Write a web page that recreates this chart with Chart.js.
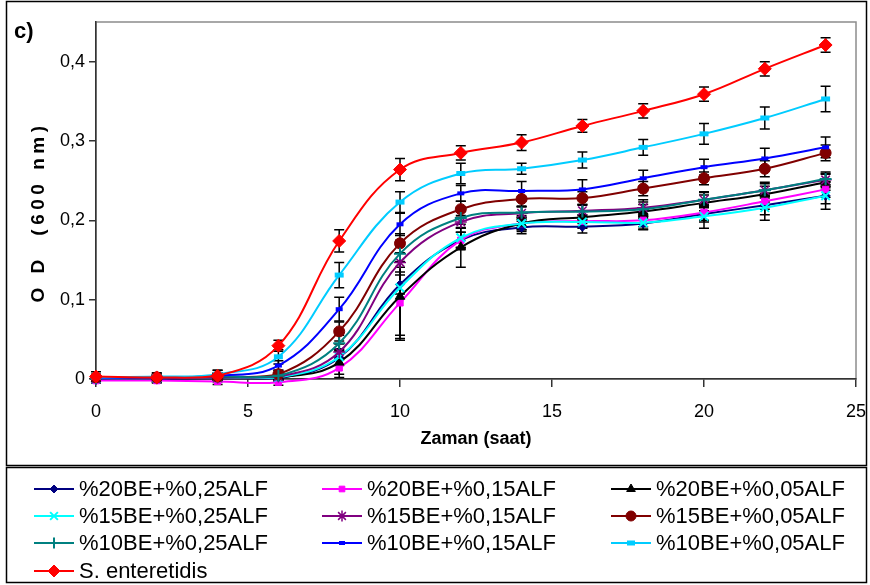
<!DOCTYPE html>
<html>
<head>
<meta charset="utf-8">
<script src="https://cdn.jsdelivr.net/npm/chart.js@4.4.1/dist/chart.umd.min.js"></script>
<style>
  html, body { margin: 0; padding: 0; background: #fff; }
  #wrap { width: 870px; height: 585px; }
</style>
</head>
<body>
<div id="wrap"><canvas id="chart" width="870" height="585"></canvas></div>
<script>
// sampling times (h)
const hours = [0, 2, 4, 6, 8, 10, 12, 14, 16, 18, 20, 22, 24];
const xTicks = [0, 5, 10, 15, 20, 25];
const yTicks = [0, 0.1, 0.2, 0.3, 0.4];

const seriesNames = [
  "%20BE+%0,25ALF", "%20BE+%0,15ALF", "%20BE+%0,05ALF",
  "%15BE+%0,25ALF", "%15BE+%0,15ALF", "%15BE+%0,05ALF",
  "%10BE+%0,25ALF", "%10BE+%0,15ALF", "%10BE+%0,05ALF",
  "S. enteretidis"
];

// OD600 means
const be20alf25 = [0.000, 0.000, 0.001, 0.001, 0.027, 0.119, 0.175, 0.191, 0.192, 0.196, 0.208, 0.219, 0.231];
const be20alf15 = [-0.002, -0.002, -0.003, -0.004, 0.014, 0.096, 0.175, 0.196, 0.199, 0.200, 0.210, 0.224, 0.239];
const be20alf05 = [0.000, 0.001, 0.001, 0.002, 0.021, 0.104, 0.166, 0.196, 0.204, 0.211, 0.222, 0.233, 0.248];
const be15alf25 = [0.000, 0.001, 0.002, 0.002, 0.028, 0.115, 0.178, 0.196, 0.198, 0.197, 0.205, 0.216, 0.231];
const be15alf15 = [0.000, 0.001, 0.002, 0.003, 0.034, 0.147, 0.198, 0.209, 0.212, 0.216, 0.226, 0.238, 0.251];
const be15alf05 = [0.002, 0.002, 0.003, 0.006, 0.060, 0.171, 0.214, 0.227, 0.228, 0.240, 0.253, 0.265, 0.285];
const be10alf25 = [0.001, 0.002, 0.003, 0.004, 0.045, 0.158, 0.203, 0.210, 0.211, 0.214, 0.226, 0.238, 0.252];
const be10alf15 = [0.001, 0.002, 0.004, 0.017, 0.088, 0.195, 0.234, 0.237, 0.239, 0.253, 0.267, 0.278, 0.292];
const be10alf05 = [0.002, 0.003, 0.006, 0.028, 0.131, 0.223, 0.259, 0.265, 0.276, 0.292, 0.309, 0.329, 0.353];
const control   = [0.003, 0.002, 0.004, 0.042, 0.174, 0.264, 0.285, 0.298, 0.319, 0.338, 0.359, 0.391, 0.421];

// standard deviations
const sd20alf25 = [0.003, 0.003, 0.004, 0.004, 0.010, 0.012, 0.010, 0.008, 0.008, 0.008, 0.010, 0.012, 0.010];
const sd20alf15 = [0.003, 0.003, 0.004, 0.004, 0.012, 0.045, 0.010, 0.008, 0.008, 0.008, 0.010, 0.010, 0.010];
const sd20alf05 = [0.003, 0.003, 0.004, 0.004, 0.015, 0.055, 0.025, 0.010, 0.008, 0.009, 0.010, 0.010, 0.010];
const sd15alf25 = [0.004, 0.004, 0.004, 0.004, 0.010, 0.060, 0.012, 0.008, 0.008, 0.008, 0.015, 0.016, 0.017];
const sd15alf15 = [0.003, 0.003, 0.004, 0.004, 0.010, 0.012, 0.008, 0.008, 0.008, 0.010, 0.010, 0.010, 0.008];
const sd15alf05 = [0.003, 0.003, 0.004, 0.005, 0.012, 0.012, 0.010, 0.010, 0.008, 0.009, 0.008, 0.010, 0.010];
const sd10alf25 = [0.003, 0.003, 0.004, 0.004, 0.010, 0.010, 0.008, 0.008, 0.008, 0.009, 0.009, 0.008, 0.009];
const sd10alf15 = [0.003, 0.003, 0.004, 0.006, 0.015, 0.014, 0.010, 0.012, 0.012, 0.010, 0.010, 0.013, 0.013];
const sd10alf05 = [0.004, 0.004, 0.005, 0.009, 0.016, 0.013, 0.013, 0.007, 0.010, 0.010, 0.013, 0.014, 0.016];
const sdControl = [0.006, 0.006, 0.007, 0.007, 0.014, 0.014, 0.009, 0.010, 0.008, 0.009, 0.009, 0.009, 0.009];

const means = [be20alf25, be20alf15, be20alf05, be15alf25, be15alf15, be15alf05, be10alf25, be10alf15, be10alf05, control];
const errors = [sd20alf25, sd20alf15, sd20alf05, sd15alf25, sd15alf15, sd15alf05, sd10alf25, sd10alf15, sd10alf05, sdControl];

const colors = ["#000080", "#ff00ff", "#000000", "#00ffff", "#800080", "#800000", "#008080", "#0000ff", "#00ccff", "#ff0000"];
const markers = [
  { style: "rectRot", r: 4.5, bw: 1 },
  { style: "rect", r: 4.5, bw: 1 },
  { style: "triangle", r: 5.5, bw: 1 },
  { style: "crossRot", r: 6, bw: 2 },
  { style: "star", r: 6, bw: 1.5 },
  { style: "circle", r: 5.5, bw: 1 },
  { style: "cross", r: 6, bw: 2 },
  { style: "line", r: 3.5, bw: 4 },
  { style: "line", r: 4.5, bw: 5 },
  { style: "rectRot", r: 6.5, bw: 1 }
];

const FONT = '"Liberation Sans", Arial, sans-serif';
const comma = (v) => String(v).replace(".", ",");

const datasets = seriesNames.map((name, i) => ({
  label: name,
  data: hours.map((h, j) => ({ x: h, y: means[i][j] })),
  borderColor: colors[i],
  backgroundColor: colors[i],
  borderWidth: 2,
  tension: 0.4,
  pointStyle: markers[i].style,
  pointRadius: markers[i].r,
  pointBorderWidth: markers[i].bw,
  pointBackgroundColor: colors[i],
  pointBorderColor: colors[i],
  clip: false,
  order: seriesNames.length - i
}));

// error bars, frames, y title and the boxed legend
const decor = {
  id: "decor",
  beforeDraw(chart) {
    const { ctx, chartArea: a } = chart;
    ctx.save();
    ctx.fillStyle = "#fff";
    ctx.fillRect(0, 0, chart.width, chart.height);
    ctx.strokeStyle = "#8c8c8c";
    ctx.lineWidth = 1.5;
    ctx.strokeRect(a.left, a.top, a.right - a.left, a.bottom - a.top);
    ctx.restore();
  },
  beforeDatasetsDraw(chart) {
    const { ctx, scales: { x, y } } = chart;
    ctx.save();
    ctx.strokeStyle = "#000";
    ctx.lineWidth = 1.5;
    means.forEach((vals, i) => {
      vals.forEach((v, j) => {
        const px = x.getPixelForValue(hours[j]);
        const top = y.getPixelForValue(v + errors[i][j]);
        const bot = y.getPixelForValue(v - errors[i][j]);
        ctx.beginPath();
        ctx.moveTo(px, top); ctx.lineTo(px, bot);
        ctx.moveTo(px - 5, top); ctx.lineTo(px + 5, top);
        ctx.moveTo(px - 5, bot); ctx.lineTo(px + 5, bot);
        ctx.stroke();
      });
    });
    ctx.restore();
  },
  afterDraw(chart) {
    const { ctx } = chart;
    ctx.save();
    // outer frame and legend box
    ctx.strokeStyle = "#000";
    ctx.lineWidth = 1.5;
    ctx.strokeRect(6.5, 1.5, 860, 464);
    ctx.strokeRect(6.5, 467.5, 860, 115);

    ctx.fillStyle = "#000";
    ctx.font = "bold 22px " + FONT;
    ctx.textBaseline = "alphabetic";
    ctx.fillText("c)", 14, 38);

    // rotated, letter-spaced axis title
    ctx.save();
    ctx.translate(39, 212);
    ctx.rotate(-Math.PI / 2);
    ctx.font = "bold 19px " + FONT;
    ctx.letterSpacing = "4.5px";
    ctx.textAlign = "center";
    ctx.textBaseline = "middle";
    ctx.fillText("O D  (600 nm)", 0, 0);
    ctx.restore();

    const cols = [34, 322, 611];
    const rows = [489, 516, 543, 571];
    chart.data.datasets.forEach((ds, i) => {
      const x0 = cols[i % 3];
      const yy = rows[Math.floor(i / 3)];
      ctx.strokeStyle = ds.borderColor;
      ctx.lineWidth = 2;
      ctx.beginPath();
      ctx.moveTo(x0, yy); ctx.lineTo(x0 + 40, yy);
      ctx.stroke();
      ctx.fillStyle = ds.pointBackgroundColor;
      ctx.strokeStyle = ds.pointBorderColor;
      ctx.lineWidth = ds.pointBorderWidth;
      Chart.helpers.drawPoint(ctx, {
        pointStyle: ds.pointStyle, radius: ds.pointRadius - 0.5,
        rotation: 0, borderWidth: ds.pointBorderWidth
      }, x0 + 20, yy);
      ctx.fillStyle = "#000";
      ctx.font = "22px " + FONT;
      ctx.textBaseline = "middle";
      ctx.fillText(ds.label, x0 + 45, yy + 1);
    });
    ctx.restore();
  }
};

new Chart(document.getElementById("chart"), {
  type: "line",
  data: { datasets },
  options: {
    responsive: false,
    animation: false,
    layout: { padding: { top: 22, right: 14, left: 0, bottom: 119 } },
    plugins: { legend: { display: false }, tooltip: { enabled: false } },
    scales: {
      x: {
        type: "linear",
        min: 0, max: 25,
        afterBuildTicks: (s) => { s.ticks = xTicks.map((v) => ({ value: v })); },
        afterFit: (s) => { s.height = 87; s.paddingLeft = 0; s.paddingRight = 0; },
        ticks: { color: "#000", font: { family: FONT, size: 18 }, padding: 14, maxRotation: 0 },
        grid: { drawOnChartArea: false, tickLength: 8, color: "#333", lineWidth: 1.5 },
        border: { color: "#333", width: 1.5 },
        title: {
          display: true, text: "Zaman (saat)", color: "#000",
          font: { family: FONT, size: 18, weight: "bold" },
          padding: { top: 0, bottom: 16 }
        }
      },
      y: {
        min: 0, max: 0.45,
        afterBuildTicks: (s) => { s.ticks = yTicks.map((v) => ({ value: v })); },
        afterFit: (s) => { s.width = 96; s.paddingTop = 0; s.paddingBottom = 0; },
        ticks: { color: "#000", font: { family: FONT, size: 18 }, padding: 4, callback: (v) => comma(v) },
        grid: { drawOnChartArea: false, tickLength: 7, color: "#333", lineWidth: 1.5 },
        border: { color: "#333", width: 1.5 }
      }
    }
  },
  plugins: [decor]
});
</script>
</body>
</html>
